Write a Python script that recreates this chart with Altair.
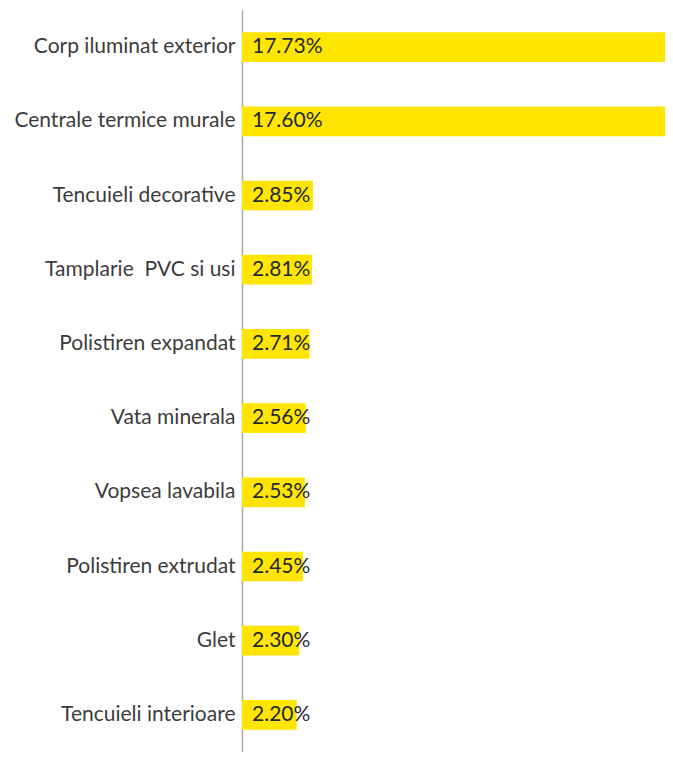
import altair as alt
import pandas as pd

categories = ["Corp iluminat exterior", "Centrale termice murale", "Tencuieli decorative",
              "Tamplarie \u00a0PVC si usi", "Polistiren expandat", "Vata minerala",
              "Vopsea lavabila", "Polistiren extrudat", "Glet", "Tencuieli interioare"]
values = [17.73, 17.60, 2.85, 2.81, 2.71, 2.56, 2.53, 2.45, 2.30, 2.20]
labels = ["17.73%", "17.60%", "2.85%", "2.81%", "2.71%", "2.56%", "2.53%", "2.45%", "2.30%", "2.20%"]

df = pd.DataFrame({"cat": categories, "val": values, "lab": labels})

FONT = "Lato"

y = alt.Y("cat:N", sort=categories, title=None,
          scale=alt.Scale(paddingInner=0.6, paddingOuter=0.3),
          axis=alt.Axis(domain=True, domainColor="#a8a8a8", domainWidth=1.5, ticks=False,
                        labelFont=FONT, labelFontSize=21, labelColor="#3c3c3c",
                        labelPadding=7, labelLimit=300))
x = alt.X("val:Q", title=None, scale=alt.Scale(domain=[0, 17.0], nice=False, zero=True),
          axis=None)

bars = alt.Chart(df).mark_bar(color="#FFE500", clip=True).encode(x=x, y=y)
text = alt.Chart(df).mark_text(align="left", baseline="middle", dx=10, font=FONT,
                               fontSize=21, color="#1e2a38").encode(
    x=alt.value(0), y=alt.Y("cat:N", sort=categories), text="lab:N")

chart = (bars + text).properties(
    width=423, height=742,
    autosize=alt.AutoSizeParams(type="none"),
    padding={"left": 234, "top": 2, "right": 0, "bottom": 0},
).configure_view(stroke=None)

chart.save("out.html", embed_options={"renderer": "svg", "actions": False})
